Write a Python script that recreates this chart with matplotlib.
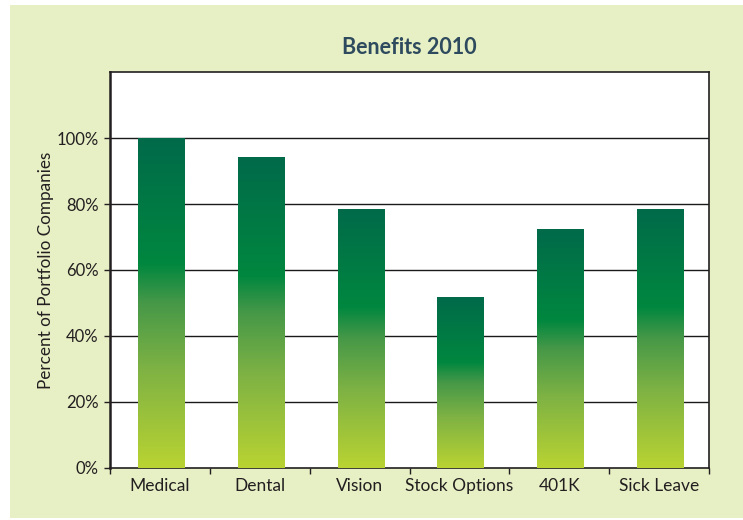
import matplotlib.pyplot as plt
import numpy as np
from matplotlib.colors import LinearSegmentedColormap
from matplotlib.patches import Rectangle
from matplotlib.ticker import FixedLocator

plt.rcParams['font.family'] = ['Lato', 'DejaVu Sans']

categories = ["Medical", "Dental", "Vision", "Stock Options", "401K", "Sick Leave"]
values = [100, 94.2, 78.5, 51.8, 72.4, 78.5]
y_ticks = [0, 20, 40, 60, 80, 100]
y_tick_labels = ["0%", "20%", "40%", "60%", "80%", "100%"]

panel_color = "#E7EFC4"
bar_cmap = LinearSegmentedColormap.from_list(
    "bars",
    [(0.0, "#B9D332"), (0.3, "#7EB244"), (0.5, "#469848"),
     (0.62, "#00873F"), (1.0, "#006A4A")]
)

fig = plt.figure(figsize=(7.43, 5.2), dpi=100)
fig.patch.set_facecolor("white")

# light green panel behind everything
fig.patches.append(Rectangle((10 / 743, 2 / 520), 733 / 743, 513 / 520,
                             transform=fig.transFigure, facecolor=panel_color,
                             edgecolor="none", zorder=-10))

ax = fig.add_axes([110 / 743, 52 / 520, 599 / 743, 396 / 520])
ax.set_facecolor("white")
ax.set_zorder(1)

x = np.arange(len(categories))
bars = ax.bar(x + 0.015, values, width=0.47, color="none", edgecolor="none", zorder=3)

# per-bar vertical gradient clipped to each bar
grad = np.linspace(0, 1, 256).reshape(-1, 1)
for b in bars:
    x0 = b.get_x()
    w = b.get_width()
    h = b.get_height()
    im = ax.imshow(grad, cmap=bar_cmap, origin="lower", aspect="auto",
                   extent=(x0, x0 + w, 0, h), zorder=3, interpolation="bilinear")
    im.set_clip_path(b)

ax.set_xlim(-0.5, len(categories) - 0.5)
ax.set_ylim(0, 120)

for yv in y_ticks[1:]:
    ax.axhline(yv, color="#1a1a1a", lw=1.0, zorder=2)

ax.set_yticks(y_ticks)
ax.set_yticklabels(y_tick_labels, fontsize=12, color="#231F20")
ax.tick_params(axis="y", length=4, width=1, pad=4, color="#231F20")

ax.xaxis.set_major_locator(FixedLocator(np.arange(-0.5, len(categories), 1.0)))
ax.xaxis.set_minor_locator(FixedLocator(x))
ax.set_xticklabels([], minor=False)
ax.set_xticklabels(categories, minor=True, fontsize=12.5, color="#231F20")
ax.tick_params(axis="x", which="major", length=4, width=1, color="#231F20")
ax.tick_params(axis="x", which="minor", length=0, pad=7)

for side in ["top", "right", "bottom"]:
    ax.spines[side].set_color("#231F20")
    ax.spines[side].set_linewidth(1.2)
ax.spines["left"].set_color("#231F20")
ax.spines["left"].set_linewidth(1.8)

ax.set_ylabel("Percent of Portfolio Companies", fontsize=12.3, color="#231F20",
              labelpad=2)

fig.text((110 + 709) / 2 / 743, 1 - 48 / 520, "Benefits 2010", ha="center",
         va="center", fontsize=15.5, fontweight="bold", color="#2E4A5E")

fig.savefig("out.png", dpi=100, facecolor=fig.get_facecolor())
